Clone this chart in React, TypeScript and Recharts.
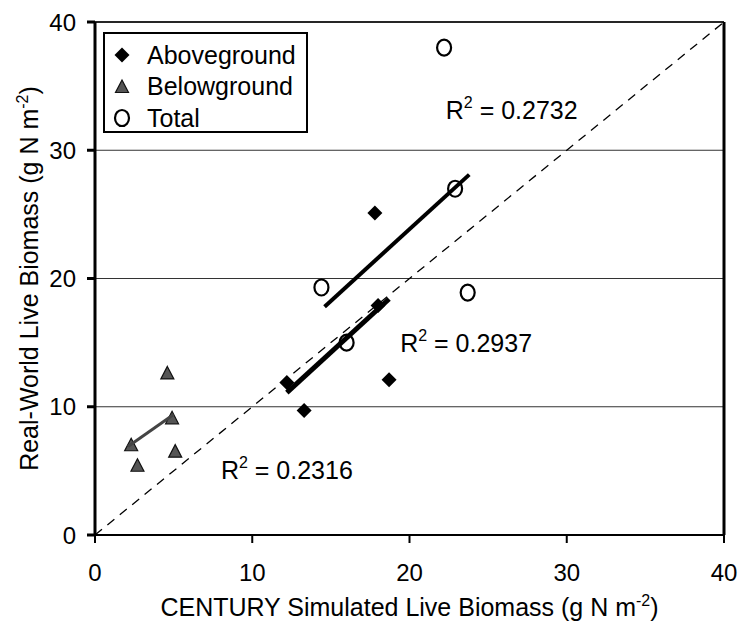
import React from "react";
import {
  ScatterChart,
  Scatter,
  XAxis,
  YAxis,
  CartesianGrid,
  ReferenceLine,
  ReferenceDot,
  Legend,
  Label,
} from "recharts";

// values
const aboveX = [12.2, 13.3, 17.8, 18.0, 18.7];
const aboveY = [11.9, 9.7, 25.1, 17.9, 12.1];
const belowX = [4.6, 4.9, 2.3, 2.7, 5.1];
const belowY = [12.6, 9.1, 7.0, 5.4, 6.5];
const totalX = [22.2, 22.9, 14.4, 23.7, 16.0];
const totalY = [38.0, 27.0, 19.3, 18.9, 15.0];

// fitted line end points, as drawn
const aboveFitX = [12.2, 18.7];
const aboveFitY = [11.1, 18.4];
const belowFitX = [2.1, 5.0];
const belowFitY = [6.9, 9.4];
const totalFitX = [14.6, 23.8];
const totalFitY = [17.8, 28.1];

const ticks = [0, 10, 20, 30, 40];

const r2Labels = [
  { x: 26.5, y: 33.1, text: "0.2732" },
  { x: 23.6, y: 15.0, text: "0.2937" },
  { x: 12.2, y: 5.1, text: "0.2316" },
];

const FONT = '"Liberation Sans", Arial, sans-serif';

const toPoints = (xs: number[], ys: number[]) =>
  xs.map((x, i) => ({ x, y: ys[i] }));

const Diamond = ({ cx, cy }: any) => (
  <path
    d={`M${cx},${cy - 7.5} L${cx + 7.5},${cy} L${cx},${cy + 7.5} L${cx - 7.5},${cy} Z`}
    fill="#000"
  />
);

const Triangle = ({ cx, cy }: any) => (
  <path
    d={`M${cx},${cy - 7} L${cx + 6.5},${cy + 5.5} L${cx - 6.5},${cy + 5.5} Z`}
    fill="#555"
    stroke="#111"
    strokeWidth={1.2}
  />
);

const Ring = ({ cx, cy }: any) => (
  <ellipse cx={cx} cy={cy} rx={7} ry={8} fill="none" stroke="#000" strokeWidth={2.2} />
);

const markers: Record<string, (p: any) => React.ReactElement> = {
  Aboveground: Diamond,
  Belowground: Triangle,
  Total: Ring,
};

const LegendBox = ({ payload }: any) => (
  <div
    style={{
      width: 201,
      height: 97,
      border: "2px solid #000",
      background: "#fff",
      fontFamily: FONT,
      fontSize: 25,
      position: "relative",
    }}
  >
    {(payload || [])
      .filter((entry: any) => markers[entry.value])
      .map((entry: any, i: number) => {
        const Marker = markers[entry.value];
        return (
          <div
            key={entry.value}
            style={{
              position: "absolute",
              left: 0,
              top: 6 + i * 31.5,
              height: 30,
              display: "flex",
              alignItems: "center",
              whiteSpace: "nowrap",
            }}
          >
            <svg width={40} height={30}>
              <Marker cx={17} cy={15} />
            </svg>
            <span style={{ marginLeft: 2 }}>{entry.value}</span>
          </div>
        );
      })}
  </div>
);

const R2Text = ({ viewBox, text }: any) => (
  <text
    x={viewBox.x}
    y={viewBox.y + 9}
    textAnchor="middle"
    fontFamily={FONT}
    fontSize={25}
    fill="#000"
  >
    R<tspan dy={-11} fontSize={16}>2</tspan>
    <tspan dy={11}>{` = ${text}`}</tspan>
  </text>
);

const XTitle = ({ viewBox }: any) => (
  <text
    x={viewBox.x + viewBox.width / 2}
    y={616}
    textAnchor="middle"
    fontFamily={FONT}
    fontSize={25}
    fill="#000"
  >
    CENTURY Simulated Live Biomass (g N m
    <tspan dy={-10} fontSize={16}>-2</tspan>
    <tspan dy={10}>)</tspan>
  </text>
);

const YTitle = ({ viewBox }: any) => {
  const cx = 38;
  const cy = viewBox.y + viewBox.height / 2;
  return (
    <text
      x={cx}
      y={cy}
      transform={`rotate(-90, ${cx}, ${cy})`}
      textAnchor="middle"
      fontFamily={FONT}
      fontSize={25}
      fill="#000"
    >
      Real-World Live Biomass (g N m
      <tspan dy={-10} fontSize={16}>-2</tspan>
      <tspan dy={10}>)</tspan>
    </text>
  );
};

export default function App() {
  return (
    <div style={{ position: "absolute", left: 0, top: 0, background: "#fff" }}>
      <ScatterChart
        width={741}
        height={629}
        margin={{ top: 22, right: 17, bottom: 0, left: 0 }}
      >
        <CartesianGrid vertical={false} stroke="#333" strokeWidth={1} />
        <XAxis
          type="number"
          dataKey="x"
          domain={[0, 40]}
          ticks={ticks}
          height={94}
          stroke="#000"
          strokeWidth={2}
          tickSize={8}
          tickMargin={21}
          tick={{ fill: "#000", fontSize: 24, fontFamily: FONT }}
        >
          <Label content={<XTitle />} />
        </XAxis>
        <YAxis
          type="number"
          dataKey="y"
          domain={[0, 40]}
          ticks={ticks}
          width={95}
          stroke="#000"
          strokeWidth={3}
          tickSize={8}
          tickMargin={11}
          tick={{ fill: "#000", fontSize: 24, fontFamily: FONT }}
        >
          <Label content={<YTitle />} />
        </YAxis>
        <ReferenceLine y={40} stroke="#000" strokeWidth={1.5} />
        <ReferenceLine x={40} stroke="#000" strokeWidth={3} />
        <ReferenceLine
          segment={[
            { x: 0, y: 0 },
            { x: 40, y: 40 },
          ]}
          stroke="#000"
          strokeWidth={1.3}
          strokeDasharray="9 7"
        />
        <Legend
          layout="vertical"
          align="center"
          verticalAlign="middle"
          wrapperStyle={{ left: 103, top: 32, width: 205, height: 101 }}
          content={<LegendBox />}
        />
        <Scatter
          name="Aboveground"
          data={toPoints(aboveX, aboveY)}
          shape={<Diamond />}
          isAnimationActive={false}
        />
        <Scatter
          name="Belowground"
          data={toPoints(belowX, belowY)}
          shape={<Triangle />}
          isAnimationActive={false}
        />
        <Scatter
          name="Total"
          data={toPoints(totalX, totalY)}
          shape={<Ring />}
          isAnimationActive={false}
        />
        <Scatter
          name="aboveFit"
          data={toPoints(aboveFitX, aboveFitY)}
          line={{ stroke: "#000", strokeWidth: 5 }}
          shape={() => <g />}
          legendType="none"
          isAnimationActive={false}
        />
        <Scatter
          name="belowFit"
          data={toPoints(belowFitX, belowFitY)}
          line={{ stroke: "#444", strokeWidth: 3 }}
          shape={() => <g />}
          legendType="none"
          isAnimationActive={false}
        />
        <Scatter
          name="totalFit"
          data={toPoints(totalFitX, totalFitY)}
          line={{ stroke: "#000", strokeWidth: 4 }}
          shape={() => <g />}
          legendType="none"
          isAnimationActive={false}
        />
        {r2Labels.map((l) => (
          <ReferenceDot
            key={l.text}
            x={l.x}
            y={l.y}
            r={0}
            stroke="none"
            fill="none"
            label={<R2Text text={l.text} />}
          />
        ))}
      </ScatterChart>
    </div>
  );
}
